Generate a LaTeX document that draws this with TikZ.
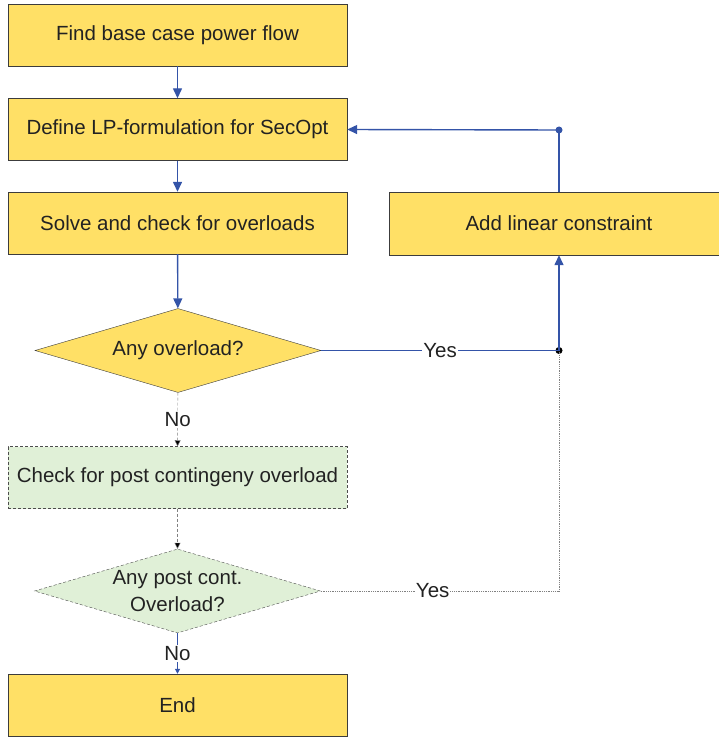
\documentclass[tikz,border=0pt]{standalone}
\usepackage{fontspec}
\setmainfont{Liberation Sans}
\usetikzlibrary{shapes.geometric,arrows.meta}

\definecolor{boxyellow}{RGB}{255,224,102}
\definecolor{boxgreen}{RGB}{224,240,215}
\definecolor{lineblue}{RGB}{52,84,168}
\definecolor{edgegray}{RGB}{60,60,60}
\definecolor{inkgray}{RGB}{34,34,34}

\tikzset{
  every node/.style={text=inkgray, font=\fontsize{20.5}{27}\selectfont},
  stepbox/.style={draw=edgegray, fill=boxyellow, minimum width=339pt, minimum height=62pt,
    inner sep=0pt},
  checkbox/.style={stepbox, fill=boxgreen, draw=black!70, densely dashed},
  askbox/.style={diamond, draw=edgegray, fill=boxyellow, inner sep=0pt,
    minimum width=286pt, minimum height=84pt},
  flow/.style={draw=lineblue, line width=1.4pt, -{Triangle[length=10pt,width=9pt]}},
  weakflow/.style={draw=gray, densely dashed, -{Triangle[length=6pt,width=6pt,fill=black]}},
  tag/.style={fill=white, inner sep=1pt},
  joint/.style={circle, fill, inner sep=0pt, minimum size=7pt}
}

\begin{document}
\begin{tikzpicture}[x=1pt,y=-1pt]
    \useasboundingbox (0,0) rectangle (719,741);

    % main column
    \node[stepbox] (base) at (177.5,35) {Find base case power flow};
    \node[stepbox] (lp) at (177.5,129.5) {Define LP-formulation for SecOpt};
    \node[stepbox] (solve) at (177.5,223) {Solve and check for overloads};
    \node[askbox] (ovl) at (178,350.5) {};
    \node at (ovl) {Any overload?};
    \node[checkbox] (post) at (177.5,477.5) {Check for post contingeny overload};
    \node[askbox, fill=boxgreen, draw=black!70, densely dashed] (postovl) at (177.5,591) {};
    \node[align=center] at (postovl) {Any post cont.\\Overload?};
    \node[stepbox] (end) at (177.5,705) {End};

    % loop back
    \node[stepbox, minimum width=340pt, minimum height=63pt] (add) at (559,223.5) {Add linear constraint};
    \node[joint, lineblue] (top) at (559,130) {};
    \node[joint, black] (mid) at (559,350.5) {};
    \coordinate (low) at (559,591);

    \draw[flow] (base) -- (lp);
    \draw[flow] (lp) -- (solve);
    \draw[flow] (solve) -- (ovl);
    \draw[weakflow] (ovl) -- node[tag] {No} (post);
    \draw[weakflow] (post) -- (postovl);
    \draw[draw=lineblue, line width=1pt, -{Triangle[length=5pt,width=5pt]}] (postovl) -- node[tag] {No} (end);

    \draw[draw=lineblue, line width=1.4pt] (ovl.east) -- node[tag] {Yes} (mid.center);
    \draw[flow] (mid.center) -- (add);
    \draw[draw=lineblue, line width=1.4pt] (add) -- (top.center);
    \draw[flow] (top.center) -- (lp.east);
    \draw[draw=gray, densely dotted, line width=0.8pt] (postovl.east) -- node[tag, pos=0.47] {Yes} (low) -- (mid.center);
\end{tikzpicture}
\end{document}
